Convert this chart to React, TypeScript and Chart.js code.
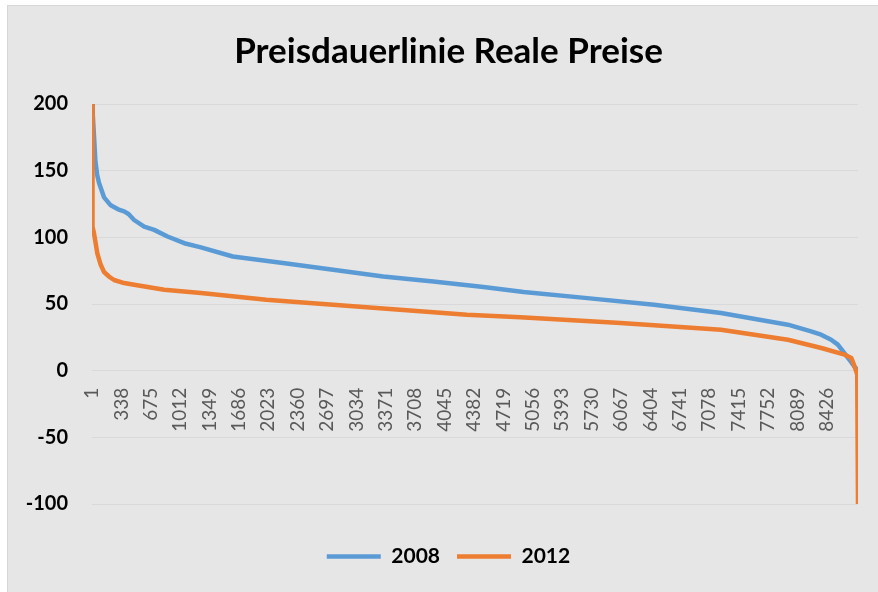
import React, { useEffect, useRef } from "react";
import { Chart, registerables } from "chart.js";

Chart.register(...registerables);

const TITLE = "Preisdauerlinie Reale Preise";
const SERIES_NAMES = ["2008", "2012"];
const SERIES_COLORS = ["#5B9BD5", "#ED7D31"];

const HOURS_2008 = [1, 10, 25, 40, 60, 81, 139, 216, 300, 369, 420, 484, 599, 714, 867, 1059, 1250, 1615, 2190, 2765, 3340, 3915, 4490, 4950, 5680, 6446, 7213, 7980, 8246, 8361, 8476, 8553, 8630, 8687, 8744, 8770, 8784];
const PRICES_2008 = [200, 192, 175, 157, 147, 141, 130, 124, 121, 119.5, 117.5, 113, 108, 105.6, 100.6, 95.6, 92.5, 85.6, 80.7, 75.7, 70.6, 66.9, 62.7, 59, 54.4, 49.4, 43.2, 34.5, 29.5, 27, 23.2, 19.5, 13, 8, 3, 1, -1];

const HOURS_2012 = [1, 3, 5, 12, 24, 62, 101, 139, 196, 254, 369, 484, 829, 1250, 1999, 2765, 3532, 4299, 4912, 6062, 7213, 7980, 8363, 8631, 8708, 8740, 8760, 8775, 8784];
const PRICES_2012 = [200, 140, 116, 108, 103, 88, 79.4, 74, 70.6, 68, 65.7, 64.4, 60.7, 58.2, 53.2, 49.4, 45.7, 41.9, 40, 35.7, 30.7, 23.2, 17, 12, 9.5, 4, 0, -3, -100];

const X_TICKS = [1, 338, 675, 1012, 1349, 1686, 2023, 2360, 2697, 3034, 3371, 3708, 4045, 4382, 4719, 5056, 5393, 5730, 6067, 6404, 6741, 7078, 7415, 7752, 8089, 8426];
const X_MIN = 1;
const X_MAX = 8784;
const Y_MIN = -100;
const Y_MAX = 200;
const Y_STEP = 50;

export default function App() {
  const canvasRef = useRef<HTMLCanvasElement | null>(null);

  useEffect(() => {
    document.body.style.margin = "0";
    const canvas = canvasRef.current;
    if (!canvas) return;
    const toPoints = (hs: number[], ps: number[]) => hs.map((h, i) => ({ x: h, y: ps[i] }));
    const chart = new Chart(canvas, {
      type: "line",
      data: {
        datasets: [
          {
            label: SERIES_NAMES[0],
            data: toPoints(HOURS_2008, PRICES_2008),
            borderColor: SERIES_COLORS[0],
            backgroundColor: SERIES_COLORS[0],
            borderWidth: 4.5,
            borderCapStyle: "round",
            borderJoinStyle: "round",
            pointRadius: 0,
            tension: 0,
            order: 1,
          },
          {
            label: SERIES_NAMES[1],
            data: toPoints(HOURS_2012, PRICES_2012),
            borderColor: SERIES_COLORS[1],
            backgroundColor: SERIES_COLORS[1],
            borderWidth: 4.5,
            borderCapStyle: "round",
            borderJoinStyle: "round",
            pointRadius: 0,
            tension: 0,
            order: 0,
          },
        ],
      },
      options: {
        animation: false,
        responsive: true,
        maintainAspectRatio: false,
        layout: { padding: { left: 20, right: 1, top: 0, bottom: 15 } },
        plugins: {
          title: {
            display: true,
            text: TITLE,
            color: "#000000",
            font: { family: "Lato", size: 35, weight: "bold" },
            padding: { top: 31, bottom: 31 },
          },
          legend: {
            position: "bottom",
            title: {
              display: true,
              text: " ",
              font: { family: "Lato", size: 10 },
              padding: { top: 13, bottom: 0 },
            },
            labels: {
              usePointStyle: true,
              pointStyle: "line",
              pointStyleWidth: 54,
              color: "#000000",
              font: { family: "Lato", size: 21, weight: "bold" },
              padding: 17,
              sort: (a: any, b: any) => a.datasetIndex - b.datasetIndex,
            },
          },
          tooltip: { enabled: false },
        },
        scales: {
          x: {
            type: "linear",
            axis: "x",
            position: { y: 0 } as any,
            min: X_MIN,
            max: X_MAX,
            afterBuildTicks: (s: any) => {
              s.ticks = X_TICKS.map((v) => ({ value: v }));
            },
            grid: { display: false, drawTicks: false },
            border: { display: true, color: "#D9D9D9", width: 1 },
            ticks: {
              autoSkip: false,
              minRotation: 90,
              maxRotation: 90,
              padding: 17,
              color: "#595959",
              font: { family: "Lato", size: 19 },
              callback: (v: any) => String(v),
            },
          },
          y: {
            min: Y_MIN,
            max: Y_MAX,
            afterFit: (s: any) => {
              s.width = 72;
            },
            ticks: {
              stepSize: Y_STEP,
              padding: 24,
              color: "#000000",
              font: { family: "Lato", size: 20, weight: "bold" },
            },
            grid: { color: "#D9D9D9", lineWidth: 1, drawTicks: false },
            border: { display: false },
          },
          yRightSpace: {
            type: "linear",
            axis: "y",
            position: "right",
            display: true,
            afterFit: (s: any) => {
              s.width = 19;
            },
            ticks: { display: false },
            grid: { display: false, drawTicks: false },
            border: { display: false },
          },
        },
      } as any,
    });
    return () => chart.destroy();
  }, []);

  return (
    <div style={{ position: "relative", width: 878, height: 592, background: "#FFFFFF", overflow: "hidden" }}>
      <div
        style={{
          position: "absolute",
          left: 7,
          top: 5,
          right: 0,
          bottom: 0,
          background: "#E6E6E6",
          borderTop: "1px solid #D6D6D6",
          borderLeft: "1px solid #D6D6D6",
        }}
      />
      <div style={{ position: "absolute", left: 0, top: 0, width: 878, height: 592 }}>
        <canvas ref={canvasRef} />
      </div>
    </div>
  );
}
